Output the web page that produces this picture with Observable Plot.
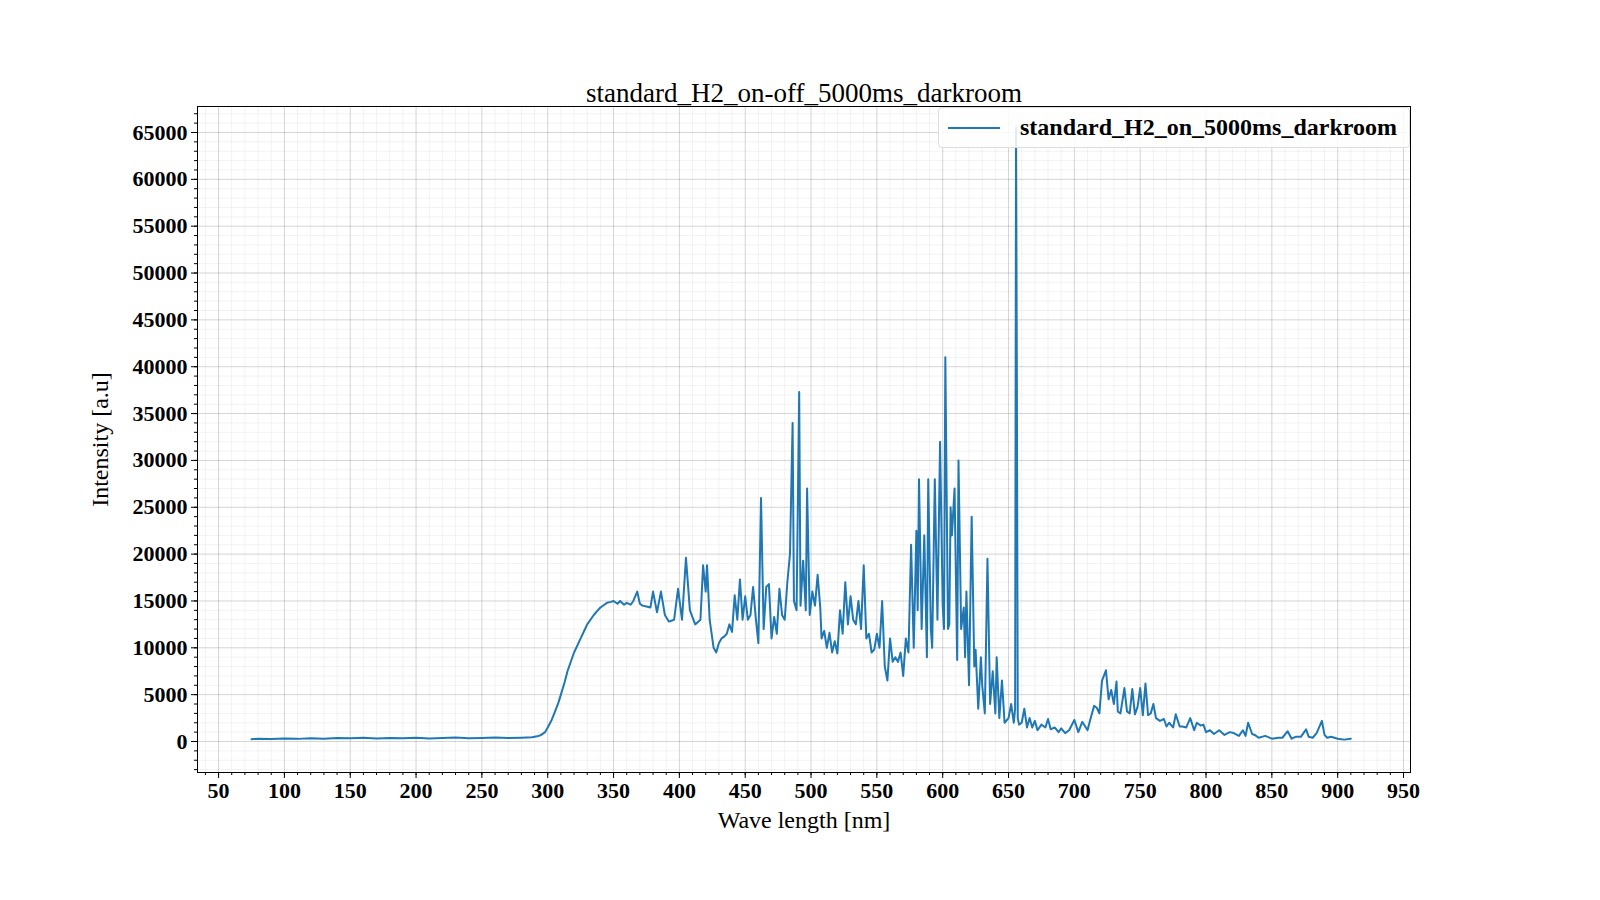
<!DOCTYPE html>
<html><head><meta charset="utf-8">
<script src="https://cdn.jsdelivr.net/npm/d3@7"></script>
<script src="https://cdn.jsdelivr.net/npm/@observablehq/plot@0.6"></script>
<style>
html,body{margin:0;background:#fff;overflow:hidden;font-family:"Liberation Serif","DejaVu Serif",serif}
#wrap{position:relative;width:1600px;height:900px}
#chart svg{max-width:none}
#legend{position:absolute;left:938px;top:107px;width:472px;height:41px;border:1px solid #ddd;border-radius:4px;background:rgba(255,255,255,0.85);box-sizing:border-box;font-weight:bold;font-size:24px;display:flex;align-items:center}
#legend .sw{width:52px;height:0;border-top:2px solid #1f77b4;margin:0 20px 0 9px}
</style></head><body>
<div id="wrap"><div id="chart"></div>
<div id="legend"><span class="sw"></span>standard_H2_on_5000ms_darkroom</div></div>
<script>
const titleText = "standard_H2_on-off_5000ms_darkroom";
const seriesName = "standard_H2_on_5000ms_darkroom";
const wavelength = [75,80,90,100,110,120,130,140,150,160,170,180,190,200,210,220,230,240,250,260,270,280,288,292,295,298,300,303,305,308,310,313,315,318,320,323,325,328,330,333,335,338,340,343,345,348,350,353,355,358,360,363,365,368,370,372,375,378,380,383,386,389,392,396,399,402,405,408,412,416,418,420,421,423,426,428,430,432,434,436,438,440,442,444,446,448,450,452,454,456,458,460,462,464,466,468,470,472,474,476,478,480,482,484,486,487,489,491,492,494,496,497,499,501,503,505,507,508,510,512,514,516,518,520,522,524,526,528,530,532,534,536,538,540,542,544,546,548,550,552,554,556,558,560,562,564,566,568,570,572,574,576,578,580,581,582,584,586,588,589,591,592,594,596,598,600,601,602,604,605,606,607,609,611,612,614,616,617,618,620,622,624,625,627,629,630,632,634,636,638,640,641,643,645,647,650,652,654,655,655.7,656.3,657,658,660,662,664,666,668,670,672,675,678,680,682,685,688,690,693,696,700,703,706,710,712,715,717,719,721,724,726,728,730,732,733,735,738,740,742,744,746,748,750,752,754,756,758,760,762,765,768,770,772,775,777,780,782,785,788,791,793,796,798,800,803,806,810,814,818,821,825,828,830,832,835,837,840,845,850,855,858,862,865,868,872,876,878,881,884,888,890,892,895,900,905,910,913];
const intensity = [250,300,260,330,280,350,300,380,340,400,330,380,350,400,330,360,420,350,380,420,360,400,450,550,700,1000,1500,2300,3000,4100,5000,6400,7500,8700,9500,10400,11000,11900,12500,13100,13500,14000,14300,14600,14800,14900,15000,14700,15000,14600,14800,14600,15000,16000,14700,14500,14400,14300,16000,13800,16000,13500,12800,13000,16300,13000,19600,14000,12500,13000,18800,16000,18800,13000,10000,9500,10500,11000,11200,11500,12500,11700,15600,13000,17300,13000,15500,13000,13500,16500,13200,10500,26000,12000,16500,16800,11000,13300,11500,16300,13500,13000,17000,20000,34000,15000,14000,37300,14500,19300,14000,27000,13500,16000,14500,17800,14300,11000,11800,10000,11600,9500,10700,9400,14000,11500,17000,12500,15500,13000,12500,15000,12000,18800,11000,11500,9500,9800,11500,10000,15000,8000,6500,11000,8500,9000,8500,9500,7000,11000,9500,21000,10000,22500,14000,28000,12000,22000,9000,28000,12000,10000,28000,13000,32000,14500,12000,41000,12000,12500,25000,22000,27000,8700,30000,12000,14300,9000,16000,6000,24000,8000,9800,3500,9000,6000,3000,19500,4000,7500,3000,9000,2500,6500,2000,2500,4000,2000,3500,65500,40000,2500,1800,2000,3500,1500,2500,1500,2200,1200,1800,1500,2400,1300,1500,1000,1400,900,1200,2300,1000,2100,1200,2300,3800,3600,3000,6500,7600,4500,5500,4000,6400,3200,3000,5700,3200,3000,5600,2900,3700,5700,2800,6200,2800,3000,4000,2500,2200,2400,1600,2000,1500,2900,1600,1600,1500,2500,1200,2000,1700,1800,1000,1200,800,1200,700,1000,900,600,1200,600,2000,800,700,400,600,300,400,400,1100,300,500,500,1300,500,400,900,2200,700,400,500,300,200,300];
const xMajor = d3.range(50, 951, 50);
const xMinor = d3.range(40, 956, 10);
const yMajor = d3.range(0, 65001, 5000);
const yMinor = d3.range(-3000, 67001, 1000);

const data = wavelength.map((w,i)=>({w, v: intensity[i]}));
const font = '"Liberation Serif","DejaVu Serif",serif';
const chart = Plot.plot({
  width:1600, height:900,
  marginLeft:197, marginRight:190, marginTop:106, marginBottom:128,
  style:{fontFamily:font, background:"#fff"},
  x:{domain:[34,955.3]},
  y:{domain:[-3309,67775]},
  marks:[
    Plot.gridX(xMinor,{stroke:"#000",strokeOpacity:0.05}),
    Plot.gridY(yMinor,{stroke:"#000",strokeOpacity:0.05}),
    Plot.gridX(xMajor,{stroke:"#000",strokeOpacity:0.12}),
    Plot.gridY(yMajor,{stroke:"#000",strokeOpacity:0.12}),
    Plot.axisX(xMinor,{text:null,tickSize:3,label:null}),
    Plot.axisY(yMinor,{text:null,tickSize:3,label:null}),
    Plot.axisX(xMajor,{tickSize:6,label:null,fontSize:22,fontWeight:"bold",tickPadding:4,fill:"#000",tickFormat:d3.format("d")}),
    Plot.axisY(yMajor,{tickSize:6,label:null,fontSize:22,fontWeight:"bold",tickPadding:4,fill:"#000",tickFormat:d3.format("d")}),
    Plot.line(data,{x:"w",y:"v",stroke:"#1f77b4",strokeWidth:2}),
    Plot.frame({stroke:"#000"}),
    Plot.text([titleText],{frameAnchor:"top",lineAnchor:"bottom",dy:-5,fontSize:27,fill:"#000"}),
    Plot.text(["Wave length [nm]"],{frameAnchor:"bottom",lineAnchor:"top",dy:38,fontSize:24,fill:"#000"}),
    Plot.text(["Intensity [a.u]"],{frameAnchor:"left",textAnchor:"middle",dx:-97,rotate:-90,fontSize:24,fill:"#000"})
  ]
});
document.getElementById("chart").append(chart);
</script></body></html>
